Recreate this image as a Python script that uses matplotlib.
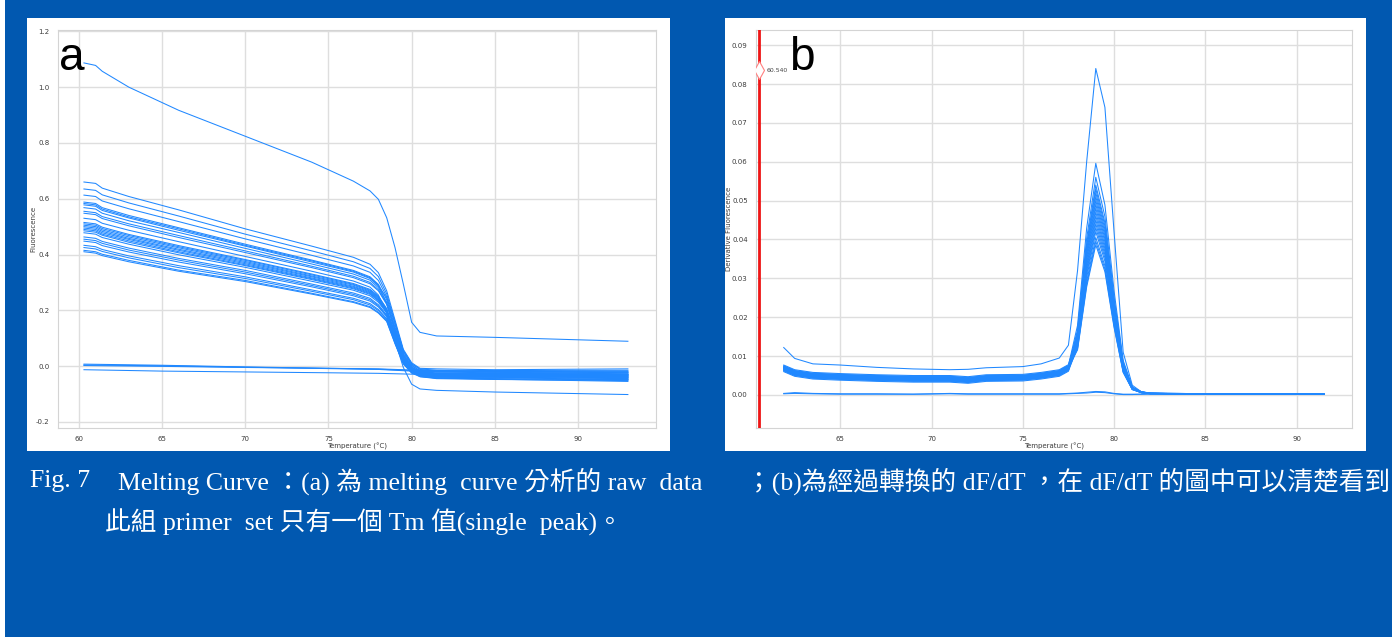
import matplotlib
matplotlib.use("Agg")
import matplotlib.pyplot as plt
from matplotlib.patches import Rectangle

plt.rcParams['axes.unicode_minus'] = False

# ---------------- data: panel a (raw melting curves) ----------------
T_A = [60.3, 61.0, 61.4, 63.0, 66.0, 70.0, 74.0, 76.5, 77.5, 78.0, 78.5,
       79.0, 79.5, 80.0, 80.5, 81.5, 85.0, 93.0]

TOP_A = [1.087, 1.078, 1.057, 1.000, 0.917, 0.824, 0.731, 0.663, 0.628, 0.598,
         0.532, 0.425, 0.294, 0.157, 0.121, 0.108, 0.103, 0.089]

LOW_A = [0.530, 0.525, 0.512, 0.487, 0.446, 0.393, 0.340, 0.305, 0.283, 0.255,
         0.190, 0.090, -0.005, -0.065, -0.082, -0.087, -0.093, -0.102]

BUNDLE_A = [
    [0.660, 0.655, 0.638, 0.608, 0.560, 0.492, 0.430, 0.390, 0.365, 0.335, 0.270, 0.165, 0.060, 0.012, -0.008, -0.010, -0.013, -0.010],
    [0.635, 0.630, 0.614, 0.585, 0.538, 0.473, 0.413, 0.374, 0.350, 0.321, 0.259, 0.157, 0.055, 0.008, -0.012, -0.018, -0.020, -0.022],
    [0.613, 0.608, 0.592, 0.564, 0.518, 0.456, 0.397, 0.359, 0.336, 0.307, 0.249, 0.149, 0.050, 0.005, -0.020, -0.028, -0.030, -0.033],
    [0.588, 0.583, 0.568, 0.540, 0.496, 0.437, 0.380, 0.343, 0.320, 0.293, 0.238, 0.140, 0.045, 0.001, -0.015, -0.020, -0.022, -0.020],
    [0.583, 0.578, 0.563, 0.535, 0.492, 0.433, 0.377, 0.340, 0.317, 0.290, 0.225, 0.125, 0.035, -0.005, -0.025, -0.032, -0.035, -0.040],
    [0.578, 0.573, 0.558, 0.531, 0.487, 0.430, 0.373, 0.337, 0.314, 0.287, 0.245, 0.155, 0.055, 0.008, -0.010, -0.015, -0.016, -0.015],
    [0.568, 0.563, 0.548, 0.521, 0.479, 0.422, 0.366, 0.330, 0.308, 0.281, 0.229, 0.134, 0.041, -0.002, -0.022, -0.030, -0.028, -0.030],
    [0.555, 0.550, 0.536, 0.510, 0.468, 0.413, 0.358, 0.322, 0.300, 0.274, 0.224, 0.129, 0.038, -0.004, -0.030, -0.037, -0.040, -0.045],
    [0.548, 0.543, 0.529, 0.503, 0.461, 0.407, 0.353, 0.317, 0.295, 0.270, 0.221, 0.127, 0.037, -0.005, -0.018, -0.025, -0.027, -0.028],
    [0.515, 0.510, 0.498, 0.472, 0.432, 0.382, 0.330, 0.296, 0.275, 0.251, 0.206, 0.116, 0.030, -0.009, -0.028, -0.034, -0.036, -0.038],
    [0.510, 0.505, 0.493, 0.468, 0.428, 0.379, 0.327, 0.293, 0.272, 0.248, 0.204, 0.114, 0.029, -0.010, -0.033, -0.040, -0.042, -0.048],
    [0.505, 0.500, 0.488, 0.463, 0.424, 0.375, 0.323, 0.290, 0.269, 0.245, 0.202, 0.112, 0.028, -0.011, -0.020, -0.026, -0.025, -0.024],
    [0.500, 0.495, 0.483, 0.458, 0.419, 0.371, 0.320, 0.286, 0.266, 0.242, 0.200, 0.111, 0.027, -0.012, -0.035, -0.042, -0.045, -0.050],
    [0.495, 0.490, 0.478, 0.454, 0.415, 0.367, 0.316, 0.283, 0.263, 0.239, 0.197, 0.109, 0.026, -0.012, -0.024, -0.030, -0.032, -0.034],
    [0.490, 0.485, 0.473, 0.449, 0.410, 0.363, 0.313, 0.280, 0.260, 0.236, 0.195, 0.107, 0.025, -0.013, -0.027, -0.033, -0.035, -0.036],
    [0.485, 0.480, 0.469, 0.444, 0.406, 0.360, 0.310, 0.277, 0.257, 0.234, 0.193, 0.106, 0.024, -0.014, -0.016, -0.022, -0.020, -0.018],
    [0.478, 0.473, 0.461, 0.437, 0.399, 0.354, 0.304, 0.272, 0.252, 0.229, 0.190, 0.103, 0.022, -0.015, -0.030, -0.036, -0.038, -0.042],
    [0.463, 0.458, 0.447, 0.423, 0.386, 0.343, 0.294, 0.262, 0.243, 0.220, 0.183, 0.098, 0.019, -0.017, -0.038, -0.045, -0.048, -0.052],
    [0.455, 0.450, 0.440, 0.416, 0.380, 0.337, 0.289, 0.257, 0.238, 0.216, 0.180, 0.095, 0.017, -0.018, -0.026, -0.031, -0.033, -0.035],
    [0.448, 0.443, 0.432, 0.409, 0.373, 0.331, 0.284, 0.252, 0.233, 0.212, 0.177, 0.093, 0.016, -0.019, -0.032, -0.038, -0.040, -0.044],
    [0.433, 0.428, 0.418, 0.395, 0.360, 0.320, 0.273, 0.243, 0.224, 0.203, 0.170, 0.088, 0.013, -0.022, -0.024, -0.027, -0.029, -0.031],
    [0.425, 0.420, 0.411, 0.388, 0.353, 0.314, 0.268, 0.238, 0.219, 0.199, 0.167, 0.085, 0.011, -0.023, -0.036, -0.043, -0.046, -0.048],
    [0.415, 0.410, 0.401, 0.379, 0.344, 0.307, 0.261, 0.231, 0.213, 0.193, 0.162, 0.082, 0.009, -0.024, -0.029, -0.035, -0.037, -0.039],
    [0.410, 0.405, 0.396, 0.374, 0.340, 0.303, 0.258, 0.228, 0.210, 0.190, 0.160, 0.080, 0.008, -0.025, -0.038, -0.043, -0.047, -0.055],
]

T_FLAT = [60.3, 65.0, 70.0, 75.0, 78.0, 80.0, 85.0, 93.0]
FLAT_A = [
    [0.007, 0.003, -0.003, -0.008, -0.011, -0.016, -0.022, -0.028],
    [0.004, 0.001, -0.004, -0.009, -0.012, -0.018, -0.025, -0.031],
    [0.002, -0.001, -0.005, -0.008, -0.010, -0.014, -0.019, -0.024],
    [-0.013, -0.018, -0.021, -0.024, -0.026, -0.029, -0.034, -0.040],
]

# ---------------- data: panel b (derivative curves) ----------------
T_B = [61.9, 62.5, 63.5, 65.0, 67.0, 69.0, 71.0, 72.0, 73.0, 75.0, 76.0, 77.0,
       77.5, 78.0, 78.5, 79.0, 79.5, 80.0, 80.5, 81.0, 81.5, 82.0, 85.0, 88.0, 91.5]

TOP_B = [0.0122, 0.0094, 0.0080, 0.0077, 0.0071, 0.0067, 0.0065, 0.0066, 0.0070,
         0.0073, 0.0080, 0.0095, 0.0128, 0.0320, 0.0600, 0.0840, 0.0740, 0.0420,
         0.0110, 0.0025, 0.0008, 0.0004, 0.0003, 0.0003, 0.0002]

# baseline part (61.9 .. 77.5)
BUNDLE_B_PRE = [
    [0.0075, 0.0063, 0.0056, 0.0053, 0.0050, 0.0048, 0.0048, 0.0045, 0.0050, 0.0051, 0.0056, 0.0063, 0.0076],
    [0.0069, 0.0057, 0.0050, 0.0047, 0.0044, 0.0042, 0.0042, 0.0039, 0.0044, 0.0045, 0.0050, 0.0057, 0.0070],
    [0.0072, 0.0060, 0.0053, 0.0050, 0.0047, 0.0045, 0.0045, 0.0042, 0.0047, 0.0048, 0.0053, 0.0060, 0.0073],
    [0.0065, 0.0053, 0.0046, 0.0043, 0.0040, 0.0038, 0.0038, 0.0035, 0.0040, 0.0041, 0.0046, 0.0053, 0.0066],
    [0.0077, 0.0065, 0.0058, 0.0055, 0.0052, 0.0050, 0.0050, 0.0047, 0.0052, 0.0053, 0.0058, 0.0065, 0.0078],
    [0.0067, 0.0055, 0.0048, 0.0045, 0.0042, 0.0040, 0.0040, 0.0037, 0.0042, 0.0043, 0.0048, 0.0055, 0.0068],
    [0.0071, 0.0059, 0.0052, 0.0049, 0.0046, 0.0044, 0.0044, 0.0041, 0.0046, 0.0047, 0.0052, 0.0059, 0.0072],
    [0.0062, 0.0050, 0.0043, 0.0040, 0.0037, 0.0035, 0.0035, 0.0032, 0.0037, 0.0038, 0.0043, 0.0050, 0.0063],
    [0.0074, 0.0062, 0.0055, 0.0052, 0.0049, 0.0047, 0.0047, 0.0044, 0.0049, 0.0050, 0.0055, 0.0062, 0.0075],
    [0.0068, 0.0056, 0.0049, 0.0046, 0.0043, 0.0041, 0.0041, 0.0038, 0.0043, 0.0044, 0.0049, 0.0056, 0.0069],
    [0.0063, 0.0051, 0.0044, 0.0041, 0.0038, 0.0036, 0.0036, 0.0033, 0.0038, 0.0039, 0.0044, 0.0051, 0.0064],
    [0.0070, 0.0058, 0.0051, 0.0048, 0.0045, 0.0043, 0.0043, 0.0040, 0.0045, 0.0046, 0.0051, 0.0058, 0.0071],
    [0.0066, 0.0054, 0.0047, 0.0044, 0.0041, 0.0039, 0.0039, 0.0036, 0.0041, 0.0042, 0.0047, 0.0054, 0.0067],
    [0.0073, 0.0061, 0.0054, 0.0051, 0.0048, 0.0046, 0.0046, 0.0043, 0.0048, 0.0049, 0.0054, 0.0061, 0.0074],
    [0.0060, 0.0048, 0.0041, 0.0038, 0.0035, 0.0033, 0.0033, 0.0030, 0.0035, 0.0036, 0.0041, 0.0048, 0.0061],
    [0.0067, 0.0055, 0.0048, 0.0045, 0.0042, 0.0040, 0.0040, 0.0037, 0.0042, 0.0043, 0.0048, 0.0055, 0.0068],
    [0.0064, 0.0052, 0.0045, 0.0042, 0.0039, 0.0037, 0.0037, 0.0034, 0.0039, 0.0040, 0.0045, 0.0052, 0.0065],
    [0.0071, 0.0059, 0.0052, 0.0049, 0.0046, 0.0044, 0.0044, 0.0041, 0.0046, 0.0047, 0.0052, 0.0059, 0.0072],
]
# peak part (78.0 .. 81.0)
BUNDLE_B_PEAK = [
    [0.0179, 0.0429, 0.0596, 0.0489, 0.0268, 0.0089, 0.0021],
    [0.0168, 0.0403, 0.0560, 0.0459, 0.0252, 0.0084, 0.0020],
    [0.0162, 0.0389, 0.0540, 0.0443, 0.0243, 0.0081, 0.0019],
    [0.0159, 0.0382, 0.0530, 0.0435, 0.0239, 0.0080, 0.0019],
    [0.0156, 0.0374, 0.0520, 0.0426, 0.0234, 0.0078, 0.0018],
    [0.0153, 0.0367, 0.0510, 0.0418, 0.0230, 0.0077, 0.0018],
    [0.0150, 0.0360, 0.0500, 0.0410, 0.0225, 0.0075, 0.0018],
    [0.0147, 0.0353, 0.0490, 0.0402, 0.0221, 0.0074, 0.0017],
    [0.0144, 0.0346, 0.0480, 0.0394, 0.0216, 0.0072, 0.0017],
    [0.0141, 0.0338, 0.0470, 0.0385, 0.0212, 0.0071, 0.0016],
    [0.0138, 0.0331, 0.0460, 0.0377, 0.0207, 0.0069, 0.0016],
    [0.0135, 0.0324, 0.0450, 0.0369, 0.0203, 0.0068, 0.0016],
    [0.0132, 0.0317, 0.0440, 0.0361, 0.0198, 0.0066, 0.0015],
    [0.0129, 0.0310, 0.0430, 0.0353, 0.0194, 0.0065, 0.0015],
    [0.0126, 0.0302, 0.0420, 0.0344, 0.0189, 0.0063, 0.0015],
    [0.0122, 0.0292, 0.0405, 0.0332, 0.0182, 0.0061, 0.0014],
    [0.0119, 0.0284, 0.0395, 0.0324, 0.0178, 0.0059, 0.0014],
    [0.0116, 0.0278, 0.0386, 0.0317, 0.0174, 0.0058, 0.0014],
]
# tail part (81.5 .. 91.5)
BUNDLE_B_TAIL = [
    [0.0008, 0.0004, 0.0003, 0.0003, 0.0002],
    [0.0007, 0.0004, 0.0003, 0.0002, 0.0002],
    [0.0008, 0.0005, 0.0003, 0.0003, 0.0002],
    [0.0007, 0.0004, 0.0002, 0.0003, 0.0002],
    [0.0008, 0.0004, 0.0003, 0.0003, 0.0003],
    [0.0007, 0.0003, 0.0003, 0.0002, 0.0002],
    [0.0008, 0.0004, 0.0003, 0.0003, 0.0002],
    [0.0006, 0.0004, 0.0002, 0.0003, 0.0002],
    [0.0008, 0.0005, 0.0003, 0.0003, 0.0002],
    [0.0007, 0.0004, 0.0003, 0.0002, 0.0002],
    [0.0006, 0.0003, 0.0003, 0.0003, 0.0002],
    [0.0007, 0.0004, 0.0003, 0.0003, 0.0002],
    [0.0006, 0.0004, 0.0002, 0.0002, 0.0002],
    [0.0007, 0.0004, 0.0003, 0.0003, 0.0002],
    [0.0006, 0.0003, 0.0003, 0.0002, 0.0002],
    [0.0006, 0.0004, 0.0003, 0.0003, 0.0002],
    [0.0006, 0.0004, 0.0002, 0.0003, 0.0002],
    [0.0006, 0.0003, 0.0003, 0.0002, 0.0002],
]

ZERO_B = [
    [0.0004, 0.0006, 0.0004, 0.0003, 0.0003, 0.0002, 0.0004, 0.0003, 0.0003, 0.0003, 0.0003, 0.0003, 0.0004,
     0.0005, 0.0007, 0.0009, 0.0008, 0.0004, 0.0002, 0.0002, 0.0002, 0.0003, 0.0003, 0.0003, 0.0002],
    [0.0003, 0.0004, 0.0003, 0.0002, 0.0002, 0.0002, 0.0003, 0.0002, 0.0002, 0.0002, 0.0002, 0.0002, 0.0003,
     0.0004, 0.0005, 0.0007, 0.0006, 0.0003, 0.0001, 0.0001, 0.0002, 0.0002, 0.0002, 0.0003, 0.0002],
]

CURSOR_T = 60.54
CURSOR_LABEL = "60.540"
CURSOR_Y = 0.0836

XTICKS_A = [60, 65, 70, 75, 80, 85, 90]
YTICKS_A = [-0.2, 0.0, 0.2, 0.4, 0.6, 0.8, 1.0, 1.2]
XTICKS_B = [65, 70, 75, 80, 85, 90]
YTICKS_B = [0.00, 0.01, 0.02, 0.03, 0.04, 0.05, 0.06, 0.07, 0.08, 0.09]

CAPTION_1A = "Fig. 7"
CAPTION_1B = "Melting Curve ：(a) 為 melting  curve 分析的 raw  data"
CAPTION_1C = "；(b)為經過轉換的 dF/dT ，在 dF/dT 的圖中可以清楚看到"
CAPTION_2 = "此組 primer  set 只有一個 Tm 值(single  peak)。"

# ---------------- figure ----------------
W, H = 1392, 637
BG = '#0158B0'
LINE = '#2088ff'

fig = plt.figure(figsize=(W / 100, H / 100), dpi=100)
fig.patch.set_facecolor(BG)


def frect(x0, y0, x1, y1):
    return [x0 / W, 1 - y1 / H, (x1 - x0) / W, (y1 - y0) / H]


def add_box(x0, y0, x1, y1, color):
    l, b, w, h = frect(x0, y0, x1, y1)
    fig.add_artist(Rectangle((l, b), w, h, transform=fig.transFigure,
                             facecolor=color, edgecolor='none', zorder=0))


add_box(0, 0, 5, H, 'white')
add_box(27, 18, 670, 451, 'white')
add_box(725, 18, 1366, 451, 'white')


def style(ax):
    ax.set_facecolor('white')
    for s in ax.spines.values():
        s.set_color('#d4d4d4')
        s.set_linewidth(0.8)
    ax.grid(True, color='#dedede', lw=1.0)
    ax.set_axisbelow(True)
    ax.tick_params(length=0, labelsize=5, labelcolor='#3c3c3c', pad=6)


# panel a
axa = fig.add_axes(frect(58, 30, 655.5, 428))
style(axa)
for row in BUNDLE_A:
    axa.plot(T_A, row, color=LINE, lw=0.75)
axa.plot(T_A, TOP_A, color=LINE, lw=0.75)
axa.plot(T_A, LOW_A, color=LINE, lw=0.75)
for row in FLAT_A:
    axa.plot(T_FLAT, row, color=LINE, lw=0.75)
axa.set_xlim(58.74, 94.66)
axa.set_ylim(-0.222, 1.205)
axa.set_xticks(XTICKS_A)
axa.set_xticklabels([str(t) for t in XTICKS_A])
axa.set_yticks(YTICKS_A)
axa.set_yticklabels(['%.1f' % v for v in YTICKS_A])
axa.set_xlabel('Temperature (°C)', fontsize=5, color='#3c3c3c')
axa.set_ylabel('Fluorescence', fontsize=5, color='#3c3c3c')
axa.xaxis.set_label_coords(0.5, -0.036)
axa.yaxis.set_label_coords(-0.036, 0.5)

# panel b
axb = fig.add_axes(frect(756, 30, 1352, 428))
style(axb)
for pre, peak, tail in zip(BUNDLE_B_PRE, BUNDLE_B_PEAK, BUNDLE_B_TAIL):
    axb.plot(T_B, pre + peak + tail, color=LINE, lw=0.75)
axb.plot(T_B, TOP_B, color=LINE, lw=0.75)
for row in ZERO_B:
    axb.plot(T_B, row, color=LINE, lw=0.75)
axb.axvline(CURSOR_T, color='#ee1515', lw=2.0, zorder=5)
axb.plot([CURSOR_T], [CURSOR_Y], marker='d', ms=9, mfc='white', mec='#ff8080',
         mew=0.8, zorder=6)
axb.text(CURSOR_T + 0.4, CURSOR_Y, CURSOR_LABEL, fontsize=4.4, color='#444444',
         va='center', ha='left', zorder=6)
axb.set_xlim(60.38, 93.04)
axb.set_ylim(-0.0085, 0.0939)
axb.set_xticks(XTICKS_B)
axb.set_xticklabels([str(t) for t in XTICKS_B])
axb.set_yticks(YTICKS_B)
axb.set_yticklabels(['%.2f' % v for v in YTICKS_B])
axb.set_xlabel('Temperature (°C)', fontsize=5, color='#3c3c3c')
axb.set_ylabel('Derivative Fluorescence', fontsize=5, color='#3c3c3c')
axb.xaxis.set_label_coords(0.5, -0.036)
axb.yaxis.set_label_coords(-0.041, 0.5)

# panel letters
fig.text(59 / W, 1 - 70 / H, 'a', fontsize=33, family='Liberation Sans',
         color='black', va='baseline', ha='left')
fig.text(789 / W, 1 - 70 / H, 'b', fontsize=33, family='Liberation Sans',
         color='black', va='baseline', ha='left')

# caption
CAP = dict(family=['Liberation Serif', 'Noto Sans CJK TC'], fontsize=18.5,
           color='white', va='center')
fig.text(30 / W, 1 - 481 / H, CAPTION_1A, ha='left', **CAP)
fig.text(118 / W, 1 - 481 / H, CAPTION_1B, ha='left', **CAP)
fig.text(1390 / W, 1 - 481 / H, CAPTION_1C, ha='right', **CAP)
fig.text(105 / W, 1 - 522 / H, CAPTION_2, ha='left', **CAP)

fig.savefig('out.png', dpi=100, facecolor=BG)
